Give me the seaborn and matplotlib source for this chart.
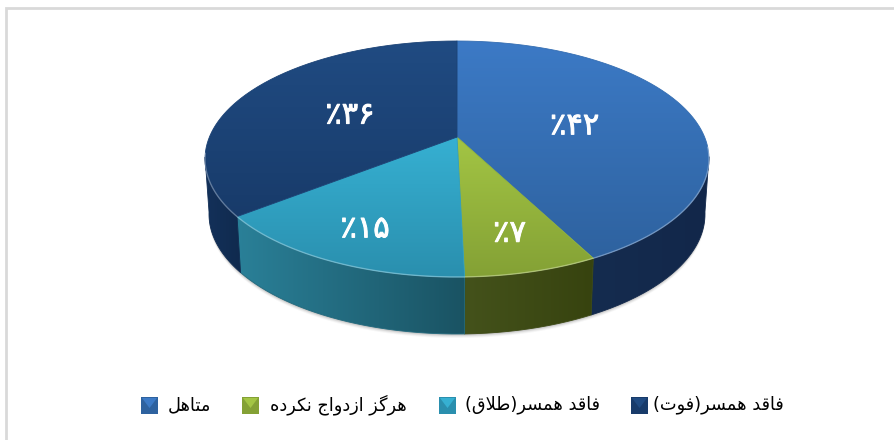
import numpy as np
import seaborn as sns
from matplotlib import pyplot as plt
from matplotlib.colors import LinearSegmentedColormap
from matplotlib.patches import Polygon, Rectangle
import matplotlib.patheffects as pe

# Values (the labels show them rounded)
categories = ['متاهل', 'هرگز ازدواج نکرده', 'فاقد همسر(طلاق)', 'فاقد همسر(فوت)']
shares = [42.4, 7.2, 14.8, 35.6]

top_light = ['#3c7ac6', '#a3c544', '#36b0d2', '#204b82']
top_dark = ['#2e629f', '#84a135', '#2a8fae', '#183b6a']
wall_left = ['#152c4f', '#44521b', '#2a8098', '#13315a']
wall_right = ['#12274a', '#37430f', '#1a5363', '#102a4e']
label_radius = [0.5, 0.74, 0.76, 0.5]
legend_x = [141, 242, 439, 631]
legend_text_x = [211, 407, 600, 784]

CX, CY, RX, RY = 457, 159, 252, 118
LOW_Y, LOW_RX, LOW_RY = 214, 248, 120
TILT = 0.186  # how far the apex sits above the ellipse centre


# matplotlib has no Arabic shaping, so pick the joined glyphs by hand
FORMS = {
    'ا': (0xFE8D, 0xFE8E), 'د': (0xFEA9, 0xFEAA), 'ر': (0xFEAD, 0xFEAE),
    'ز': (0xFEAF, 0xFEB0), 'و': (0xFEED, 0xFEEE),
    'ف': (0xFED1, 0xFED2, 0xFED3, 0xFED4), 'ق': (0xFED5, 0xFED6, 0xFED7, 0xFED8),
    'ه': (0xFEE9, 0xFEEA, 0xFEEB, 0xFEEC), 'م': (0xFEE1, 0xFEE2, 0xFEE3, 0xFEE4),
    'س': (0xFEB1, 0xFEB2, 0xFEB3, 0xFEB4), 'ت': (0xFE95, 0xFE96, 0xFE97, 0xFE98),
    'ط': (0xFEC1, 0xFEC2, 0xFEC3, 0xFEC4), 'ل': (0xFEDD, 0xFEDE, 0xFEDF, 0xFEE0),
    'گ': (0xFB92, 0xFB93, 0xFB94, 0xFB95), 'ج': (0xFE9D, 0xFE9E, 0xFE9F, 0xFEA0),
    'ن': (0xFEE5, 0xFEE6, 0xFEE7, 0xFEE8), 'ک': (0xFB8E, 0xFB8F, 0xFB90, 0xFB91),
}
MIRROR = {'(': ')', ')': '('}


def shape(text):
    """returns text as joined glyphs in visual (left to right) order"""
    text = text.replace('لا', '\uFEFB')
    out = []
    for i, ch in enumerate(text):
        if ch == '\uFEFB':
            prev = text[i-1] if i > 0 else ' '
            out.append('\uFEFC' if prev in FORMS and len(FORMS[prev]) == 4 else ch)
            continue
        if ch not in FORMS:
            out.append(MIRROR.get(ch, ch))
            continue
        prev = text[i-1] if i > 0 else ' '
        nxt = text[i+1] if i < len(text)-1 else ' '
        joins_prev = prev in FORMS and len(FORMS[prev]) == 4
        joins_next = (nxt in FORMS or nxt == '\uFEFB') and len(FORMS[ch]) == 4
        forms = FORMS[ch]
        if joins_prev and joins_next:
            out.append(chr(forms[3]))
        elif joins_next:
            out.append(chr(forms[2]))
        elif joins_prev:
            out.append(chr(forms[1]))
        else:
            out.append(chr(forms[0]))
    return ''.join(out[::-1])


def persian_percent(value):
    digits = str(int(round(value))).translate(str.maketrans('0123456789', '۰۱۲۳۴۵۶۷۸۹'))
    return '٪' + digits


def disc(theta, r=1.0):
    """tilted disc coordinates for angle (degrees, clockwise from the top)"""
    t = np.radians(theta)
    x, y = r*np.sin(t), r*np.cos(t)
    den = 1 + TILT*y
    return x*np.sqrt(1 - TILT**2)/den, (y + TILT)/den


def upper(theta, r=1.0):
    x, y = disc(theta, r)
    return CX + RX*x, CY - RY*y


def lower(theta):
    x, y = disc(theta)
    return CX + LOW_RX*x, LOW_Y - LOW_RY*y


def gradient_fill(ax, pts, c0, c1, horizontal=False, zorder=2):
    """fills a polygon with a two colour gradient"""
    cmap = LinearSegmentedColormap.from_list('g', [c0, c1])
    poly = Polygon(pts, closed=True, facecolor='none', edgecolor='none', zorder=zorder)
    ax.add_patch(poly)
    grad = np.linspace(0, 1, 256)
    grad = grad[None, :] if horizontal else grad[:, None]
    im = ax.imshow(grad, cmap=cmap, aspect='auto', zorder=zorder,
                   extent=(pts[:, 0].min(), pts[:, 0].max(), pts[:, 1].max(), pts[:, 1].min()))
    im.set_clip_path(poly)
    ax.plot(*np.vstack([pts, pts[0]]).T, color=sns.blend_palette([c0, c1], 3)[1],
            lw=0.6, zorder=zorder)


sns.set_theme(style='white')
plt.rcParams['font.family'] = ['DejaVu Sans']

fig, ax = plt.subplots(figsize=(8.94, 4.4), dpi=100)
ax.set_position([0, 0, 1, 1])

# soft shadow under the pie
theta_all = np.linspace(88, 272, 200)
for grow, alpha in zip([4, 3, 2, 1], [0.05, 0.08, 0.12, 0.16]):
    sx, sy = lower(theta_all)
    ax.fill(sx, sy + grow, color='#555555', alpha=alpha, lw=0, zorder=1)

edges = np.cumsum([0] + shares)*3.6

# side walls first, only the part that faces the viewer
for i in range(len(shares)):
    theta = np.linspace(edges[i], edges[i+1], 200)
    _, y = disc(theta)
    theta = theta[y < 0.02]
    if len(theta) < 2:
        continue
    ux, uy = upper(theta)
    lx, ly = lower(theta)
    pts = np.vstack([np.column_stack([ux, uy]), np.column_stack([lx, ly])[::-1]])
    gradient_fill(ax, pts, wall_left[i], wall_right[i], horizontal=True, zorder=2)

# top faces
apex = np.array(upper(0, 0.0))
for i in range(len(shares)):
    theta = np.linspace(edges[i], edges[i+1], 200)
    pts = np.vstack([apex, np.column_stack(upper(theta))])
    gradient_fill(ax, pts, top_light[i], top_dark[i], zorder=3)

# pale bevel on the front rim
theta = np.linspace(95, 262, 200)
ax.plot(*upper(theta), color='white', alpha=0.3, lw=1, zorder=4)

for i, value in enumerate(shares):
    lx, ly = upper((edges[i] + edges[i+1])/2, label_radius[i])
    ax.text(lx, ly + 2, persian_percent(value), color='white', fontsize=22,
            ha='center', va='center', zorder=5,
            path_effects=[pe.withStroke(linewidth=0.7, foreground='white')])

# legend
for i, name in enumerate(categories):
    x0 = legend_x[i]
    ax.add_patch(Rectangle((x0, 397), 17, 17, facecolor=top_dark[i],
                           edgecolor='none', zorder=2))
    ax.add_patch(Polygon([(x0+1, 398), (x0+16, 398), (x0+8.5, 408)], closed=True,
                         facecolor=top_light[i], edgecolor='none', zorder=3))
    ax.text(legend_text_x[i], 405, shape(name), color='black', fontsize=12.8,
            ha='right', va='center')

# frame of the original chart, open on the right and at the bottom
ax.plot([6, 6, 894], [440, 8, 8], color='#d9d9d9', lw=2, zorder=1, solid_joinstyle='miter')

ax.set_xlim(0, 894)
ax.set_ylim(440, 0)
ax.axis('off')
fig.savefig('out.png', dpi=100)
